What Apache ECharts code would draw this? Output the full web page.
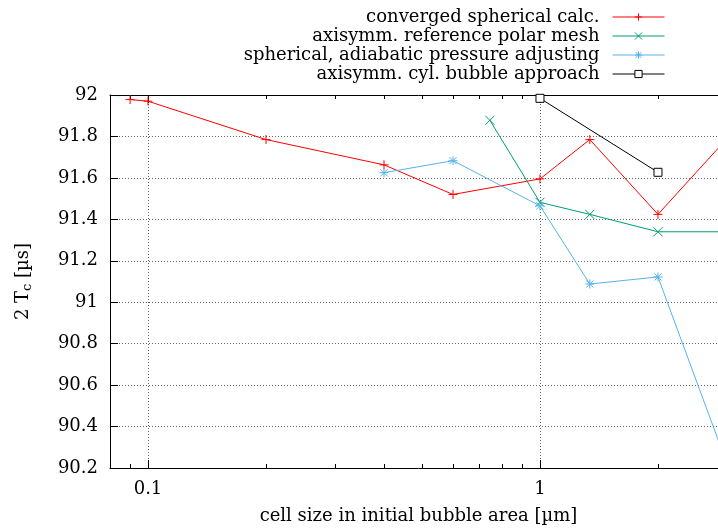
<!DOCTYPE html>
<html>
<head>
<meta charset="utf-8">
<script src="https://cdn.jsdelivr.net/npm/echarts@6/dist/echarts.min.js"></script>
<style>
html,body{margin:0;padding:0;background:#fff;overflow:hidden;width:718px;height:528px;}
#c{width:740px;height:528px;}
</style>
</head>
<body>
<div id="c"></div>
<script>
// ---- data ----
const seriesNames = [
  'converged spherical calc.',
  'axisymm. reference polar mesh',
  'spherical, adiabatic pressure adjusting',
  'axisymm. cyl. bubble approach'
];
const convergedX = [0.09, 0.1, 0.2, 0.4, 0.6, 1, 1.34, 2, 3];
const convergedY = [91.978, 91.97, 91.785, 91.663, 91.52, 91.595, 91.785, 91.424, 91.79];
const polarX = [0.745, 1, 1.34, 2, 3];
const polarY = [91.878, 91.482, 91.424, 91.34, 91.34];
const adiabaticX = [0.4, 0.6, 1, 1.34, 2, 3];
const adiabaticY = [91.625, 91.683, 91.465, 91.088, 91.122, 90.22];
const cylX = [1, 2];
const cylY = [91.984, 91.627];
const xMajorTicks = [0.1, 1];
const xMinorTicks = [0.09, 0.2, 0.3, 0.4, 0.5, 0.6, 0.7, 0.8, 0.9, 2, 3];
const yTicks = [90.2, 90.4, 90.6, 90.8, 91, 91.2, 91.4, 91.6, 91.8, 92];

const FONT = '"DejaVu Serif", serif';
const colors = ['#ff0000', '#009e73', '#56b4e9', '#000000'];
const symPlus = 'path://M0,5L10,5M5,0L5,10';
const symX = 'path://M0,0L10,10M0,10L10,0';
const symStar = 'path://M0,5L10,5M5,0L5,10M1,1L9,9M1,9L9,1';
const symbols = [symPlus, symX, symStar, 'rect'];

function pairs(xs, ys){ return xs.map((x,i)=>[x, ys[i]]); }
const datas = [pairs(convergedX, convergedY), pairs(polarX, polarY), pairs(adiabaticX, adiabaticY), pairs(cylX, cylY)];

const chart = echarts.init(document.getElementById('c'), null, {renderer:'canvas'});

const xBase = {
  type: 'log', logBase: 10, min: 0.08, max: 3, gridIndex: 0,
  splitLine: {show:false}, minorTick:{show:false}, minorSplitLine:{show:false}
};
const xAxes = [
  Object.assign({}, xBase, {
    position: 'bottom',
    axisLine: {show:true, onZero:false, lineStyle:{color:'#000', width:1}},
    axisTick: {show:true, inside:true, length:8, customValues: xMajorTicks, lineStyle:{color:'#000'}},
    axisLabel: {show:true, customValues: xMajorTicks, margin: 12, color:'#000', fontFamily: FONT, fontSize: 18,
      formatter: v => String(v)},
    splitLine: {show:true, lineStyle:{color:'#666', type:[1,2], width:1}},
    name: 'cell size in initial bubble area [µm]', nameLocation:'middle', nameGap: 39,
    nameTextStyle: {color:'#000', fontFamily: FONT, fontSize: 18}
  }),
  Object.assign({}, xBase, {
    position: 'bottom',
    axisLine: {show:false},
    axisTick: {show:true, inside:true, length:4, customValues: xMinorTicks, lineStyle:{color:'#000'}},
    axisLabel: {show:false}
  }),
  Object.assign({}, xBase, {
    position: 'top',
    axisLine: {show:true, onZero:false, lineStyle:{color:'#000', width:1}},
    axisTick: {show:true, inside:true, length:8, customValues: xMajorTicks, lineStyle:{color:'#000'}},
    axisLabel: {show:false}
  }),
  Object.assign({}, xBase, {
    position: 'top',
    axisLine: {show:false},
    axisTick: {show:true, inside:true, length:4, customValues: xMinorTicks, lineStyle:{color:'#000'}},
    axisLabel: {show:false}
  })
];

const yAxes = [{
  type: 'value', min: 90.2, max: 92, interval: 0.2, position: 'left',
  axisLine: {show:true, onZero:false, lineStyle:{color:'#000', width:1}},
  axisTick: {show:true, inside:true, length:8, customValues: yTicks, lineStyle:{color:'#000'}},
  axisLabel: {customValues: yTicks, margin: 12, color:'#000', fontFamily: FONT, fontSize: 18,
    formatter: v => String(Math.round(v*10)/10)},
  splitLine: {show:true, lineStyle:{color:'#666', type:[1,2], width:1}},
  name: '{n|2 T}{s|c}{n| [µs]}', nameLocation: 'middle', nameGap: 76, nameRotate: 90,
  nameTextStyle: {color:'#000', fontFamily: FONT, fontSize: 18,
    rich: {n:{fontFamily: FONT, fontSize: 18, color:'#000'}, s:{fontFamily: FONT, fontSize: 13, color:'#000', verticalAlign:'bottom', padding:[8,0,0,0]}}}
}];

const series = datas.map((d, i) => ({
  name: seriesNames[i],
  type: 'line',
  xAxisIndex: 0, yAxisIndex: 0,
  data: d,
  symbol: symbols[i],
  symbolSize: i === 3 ? 8 : 9,
  showAllSymbol: true,
  lineStyle: {color: colors[i], width: 1},
  itemStyle: {color: i === 3 ? '#fff' : 'rgba(0,0,0,0)', borderColor: colors[i], borderWidth: 1},
  emphasis: {disabled: true},
  clip: true,
  animation: false,
  z: 3 + i
}));

const legends = seriesNames.map((n, i) => ({
  data: [n],
  orient: 'vertical',
  align: 'right',
  right: 75,
  top: 8 + i * 19,
  itemWidth: 52,
  itemHeight: 9,
  itemGap: 0,
  padding: 0,
  selectedMode: false,
  itemStyle: {color: i === 3 ? '#fff' : 'rgba(0,0,0,0)', borderColor: colors[i], borderWidth: 1},
  lineStyle: {width: 1},
  textStyle: {color:'#000', fontFamily: FONT, fontSize: 18, padding:[0, 8, 0, 0]}
}));

chart.setOption({
  animation: false,
  backgroundColor: '#fff',
  grid: {left: 110, right: 13, top: 95, bottom: 60, containLabel: false, outerBoundsMode: 'none'},
  legend: legends,
  xAxis: xAxes,
  yAxis: yAxes,
  series: series
});
</script>
</body>
</html>
